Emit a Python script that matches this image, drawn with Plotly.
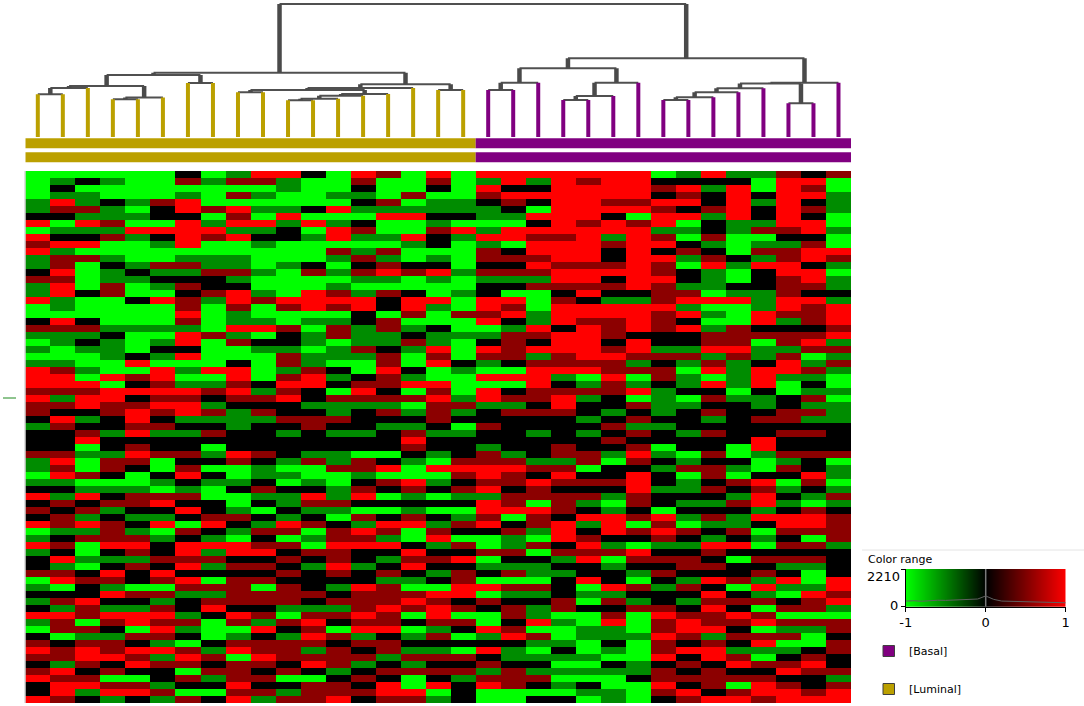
import plotly.graph_objects as go

W, H = 1084, 706

# ---------------- data ----------------
sample_groups = ["Luminal"] * 18 + ["Basal"] * 15
group_colors = {"Luminal": "#BBA000", "Basal": "#800080"}

# expression level codes (per sample, genes top -> bottom)
level_values = {"G": -1.0, "g": -0.55, "k": 0.0, "r": 0.55, "R": 1.0}

luminal_profiles = [
    "GGGGggkRGRrRggkrggR" "GGkrgGgGgRRRrRrrkgkk" "krggGgkRkrkRGgRgkkr" "GgkgkRgGkrRrkrRkkR",
    "GgkgRrkGgkRgrrRrRRg" "gGRrggGGgrRRrgrkRrkk" "krRrRgkgrkrrgkrkRgr" "RGkrgRrrGkrrgRrRRr",
    "GkGggrgRgkRGrGGGGkG" "GGkrgkgGGgGRrRRkgkrR" "GgGGrGgRkrgRgrGGgGk" "rkkRrrGrgrRRrkrRgk",
    "GgGGkggrgrGGgkggrrG" "GGGgkgggGGRGRRrrkkgk" "kgrrkGgkrgkrrrRkgkR" "rgRkgRrkgrrRkrGrRg",
    "GGGGgGgGRgGGGgkgGGk" "GGGgGGGkRGrkRkrRRrRk" "rRrkGGgrrkgkgrRrgrk" "kGrkgRRGrkRrRkGrRk",
    "GGGGrkkGRkgGGrgkgGR" "GGGgGgkgGRRrRrRrkrgk" "krGGkgGrRkgRGgkkrkR" "rGrgrRrRrgRgrkkgrg",
    "krGgRRkRRRRGgrgkrkr" "rRrgRRkRGgGgRrRRgkgk" "krkrRkgrkRkGrkRRrRk" "RrgkkgrgkGrRrGrkGr",
    "GgGGGrGgRrGGggrkkrg" "GGGGrGGGGRGgrkgrgkrk" "GgkGkgGGkkrRkgRgrgk" "GrgrRkGGGkgrkrgkGk",
    "grGrGRrRgRGGggrgkRR" "rggRgrGGkRRrRrkgggkk" "kRrGGgkGGgrkgGRRkrk" "rrrrkRrGgrRGrrrRrR",
    "RrGgGgGRgkgGGGgGGgr" "GGgRGkgGGGGkgrkrgkkk" "krkggkrgkGkgrkrRkrk" "rGrrkrgRkrrRrkrkrg",
    "RggGGgRgkkGGGgGGGGR" "rGGrkkgrrgrRrRkkrkgk" "kkgGgGkggkgRrGrkrkr" "krrrgGrkgrrrkrGkgr",
    "kGGGGkGRGgGGGkrGGRR" "RGgGggGggrRRkkgkrrkk" "kgrGGgkRrgkrGgGrkgk" "kkrkgrRrRrgrRkGrrr",
    "GGGgGRGgRRGrgGgGgrR" "rGgrrGggGkgkGrggrkgk" "kggrGGggrgGkrrRrrRr" "kgkrgrkGrkrrrgkrrR",
    "RrkgkgGkrgGgrkrgGgR" "RkkgggrgGGkrRrgkkkgk" "kGrrgkrRkGrgRrRkkgk" "kRrrrRrRgrkrgkrkrk",
    "rGGGrgRGGgGrgrRgGrk" "kGrrggkrrRrrkrgrkgkk" "kGkRGrkGkGkRrgRkgkr" "grrrRrrRkrrgkrkRRr",
    "GGGrGgRGGRgGGkrGGkR" "RrGgkrgGGkgRGrGgkgrR" "rkgGGRrgkgrRGGkRrRk" "gGrRrGkGgkgrgrGGRr",
    "RrkGggkgrkkGgkRgGGR" "gGGkggRrRGGRrRrrrkgk" "kgGRGgkGkGkgrRgkrkg" "kGRrRRrgrkgrkrkRGg",
    "GGGGggkGRgGGGGgGGgG" "GrGGgGGGkgGGGgrgkGgk" "kkrRrkrgkGgrkGrkRkr" "rRRkrGrkGkGrkrgkkk",
]

basal_profiles = [
    "RgRrkggGgRgrrkrgkkR" "RrRGgkRrgGRGRRgkkrkk" "grrRRrRgRRrRkGGrGgk" "GRGrkGGRgkRkrgrRGG",
    "RRkRrkgGRRGkrkrgkGR" "rRkgrrrrkGRGkrgrkkkk" "kgrRrrkrrRGkrggrkgr" "GrgkrrkrRkggkrrrGG",
    "RgkRkGRkRrRRrRrgrGG" "GggRrkRgrRRRrrkrkkgk" "kkgrkRrrGRrrgGrGkgg" "GrgkggRGrgGgkgrkGk",
    "RRRRRRRRRrRRRrRRrkr" "RRRkRRRrrRgkrRRrkkkk" "rrgrRrkrrrkRRRkrgkg" "kkkrrGgGGgkgGgGgGk",
    "RrRRRRRrRRRRRrRRrRk" "RRrRRRRRrRGgrgkkgkgk" "krrGkrkrgkRgkrRrRkk" "RGgGkGGggGGgGgGkgG",
    "RRRRrRkRRgrkkrRkrkg" "RRrrrkrRrrRrrkkgkrkr" "kgGkkrkgGgRRRkgrGgk" "kRgrkrRggkgGkgGGgg",
    "RRRRrRGrRRRRRRRRRkg" "RRRRkRRrgrGgRGrkrgrk" "rRrkRRRrrkrGrkGRrkg" "GrkgrGGGgGGGggkGGG",
    "GkrkRrRRgrRkRrrRrrr" "Rrrrkkgrkrrkggggkgkk" "GgkgkkgkkGRrRrgkrkr" "kgkkrRrrRrrRkrrRrk",
    "gkRrRkRGgGkrgGkkgrR" "gRkRkkgrgGggkGgkkkgk" "kGgrGggkgkgGrkgkrrk" "grkgkrRRrkRkrkrkRr",
    "RkgkkrgkkrgkrRgggGR" "GgGgrrRgrRGRkrkrgkrk" "krkrrkrkgkrgkgRrkrk" "RkRrRrrRgrRRkrrrkR",
    "gkRRRRRggGGGkgGGkgR" "GGGrrrRrggggGgkkkkkk" "GGkgGrkgrkggrkRkGkk" "rGkrkRrkrkgrRkrGrR",
    "gGGkgkkgrGgrgRkkkgg" "gRRkrGggkRRRkggkrkkR" "RgGGkRrRRgRkGgGkrkr" "gRgrGrRGrRgGrkrRRr",
    "rRRRRRRRrkgrrRRrrrR" "RrgkrrgrRRgGGkkrrkrk" "krgrkGgkgkRRrkrkrgk" "RgGkrGrgrGgkrRkrRR",
    "kRrRkrkRRkrRRkRRrkR" "rrrkrRrGgrgkgrgrgkrk" "krkkRrkgGrRRrGrkrgG" "GgRrrGrgGGkrRrkkrR",
    "rGGgggGGgGGRrgGggkg" "RRRrRgrgrgGGgGgggkkk" "krGggGgrgkrrrrgkkkk" "RRrRgGrrkrrkkrgrRR",
]

# hierarchical clustering merges: (node, child_a, child_b, distance)
merges = [
    ("A", 0, 1, 42.7), ("B", "A", 2, 49.0), ("E", 3, 4, 37.7), ("D", "E", 5, 39.5),
    ("C", "B", "D", 51.0), ("G", 6, 7, 54.0), ("F", "C", "G", 62.0),
    ("M", 8, 9, 44.7), ("P", 10, 11, 36.7), ("Q", "P", 12, 38.3), ("R", "Q", 13, 41.3),
    ("N", "R", 14, 43.0), ("L", "M", "N", 47.0), ("J", "L", 15, 49.0),
    ("K", 16, 17, 47.0), ("I", "J", "K", 52.7), ("H", "F", "I", 64.3),
    ("a", 18, 19, 47.0), ("b", "a", 20, 54.3), ("c", 21, 22, 37.0), ("d", "c", 23, 41.0),
    ("e", "d", 24, 54.3), ("f", "b", "e", 68.7), ("g", 25, 26, 37.0), ("h", "g", 27, 39.7),
    ("i", "h", 28, 44.7), ("j", "i", 29, 48.7), ("k", 30, 31, 33.7), ("l", "j", "k", 53.5),
    ("m", "l", 32, 54.3), ("n", "f", "m", 78.7), ("root", "H", "n", 133.0),
]

# value distribution shown in the colour-range legend
hist_bins = [-1.0, -0.9, -0.8, -0.7, -0.6, -0.5, -0.4, -0.3, -0.2, -0.1, 0.0,
             0.1, 0.2, 0.3, 0.4, 0.5, 0.6, 0.7, 0.8, 0.9, 1.0]
hist_counts = [330, 350, 320, 360, 380, 370, 400, 430, 420, 450, 630,
               430, 330, 320, 300, 310, 280, 270, 250, 240, 230]
hist_max = 2210
range_ticks = [-1, 0, 1]

# ---------------- build ----------------
profiles = luminal_profiles + basal_profiles
n_genes = len(profiles[0])
for i, p in enumerate(profiles):
    assert len(p) == n_genes, f"profile {i} has length {len(p)} != {n_genes}"
z = [[level_values[profiles[c][r]] for c in range(len(profiles))] for r in range(n_genes)]

cscale = [[0.0, "#00FF00"], [0.5, "#000000"], [1.0, "#FF0000"]]
FONT = "DejaVu Sans"


def pxx(x):
    return x / W


def pxy(y):
    return 1 - y / H


fig = go.Figure()

fig.add_trace(go.Heatmap(
    z=z, x=list(range(len(profiles))), y=list(range(n_genes)),
    colorscale=cscale, zmin=-1, zmax=1, showscale=False, hoverinfo="skip",
    xaxis="x", yaxis="y"))

# dendrogram
pos = {i: float(i) for i in range(len(profiles))}
hgt = {i: 0.0 for i in range(len(profiles))}
hx, hy, cx, cy = [], [], [], []
leaf_xy = {g: ([], []) for g in group_colors}
for name, a, b, h in merges:
    pos[name] = (pos[a] + pos[b]) / 2
    hgt[name] = h
    hx += [pos[a], pos[b], None]
    hy += [h, h, None]
    for ch in (a, b):
        if isinstance(ch, int):
            lx, ly = leaf_xy[sample_groups[ch]]
            lx += [pos[ch], pos[ch], None]
            ly += [0, h, None]
        else:
            cx += [pos[ch], pos[ch], None]
            cy += [hgt[ch], h, None]

fig.add_trace(go.Scatter(x=hx, y=hy, mode="lines", line=dict(color="#505050", width=2),
                         xaxis="x2", yaxis="y2", hoverinfo="skip", showlegend=False))
for g, (lx, ly) in leaf_xy.items():
    fig.add_trace(go.Scatter(x=lx, y=ly, mode="lines", line=dict(color=group_colors[g], width=4),
                             xaxis="x2", yaxis="y2", hoverinfo="skip", showlegend=False))
fig.add_trace(go.Scatter(x=cx, y=cy, mode="lines", line=dict(color="#4a4a4a", width=4.5),
                         xaxis="x2", yaxis="y2", hoverinfo="skip", showlegend=False))

# colour-range legend gradient + histogram
fig.add_trace(go.Heatmap(
    x=range_ticks, y=[0, hist_max], z=[range_ticks, range_ticks], zsmooth="best",
    colorscale=cscale, zmin=-1, zmax=1, showscale=False, hoverinfo="skip",
    xaxis="x3", yaxis="y3"))
fig.add_trace(go.Scatter(x=[0, 0], y=[0, hist_max * 1.06], mode="lines",
                         line=dict(color="#7a7a7a", width=1.5), cliponaxis=False,
                         xaxis="x3", yaxis="y3", hoverinfo="skip", showlegend=False))
fig.add_trace(go.Scatter(x=hist_bins, y=hist_counts, mode="lines",
                         line=dict(color="#606060", width=1),
                         xaxis="x3", yaxis="y3", hoverinfo="skip", showlegend=False))

shapes = []
# sample group bars
for (y0, y1) in [(138.3, 148.3), (152.3, 162.3)]:
    start = 0
    for g in ["Luminal", "Basal"]:
        cnt = sample_groups.count(g)
        shapes.append(dict(type="rect", xref="x", yref="paper",
                           x0=start - 0.5, x1=start + cnt - 0.5, y0=pxy(y1), y1=pxy(y0),
                           fillcolor=group_colors[g], line=dict(width=0), layer="above"))
        start += cnt
# left marker
shapes.append(dict(type="line", xref="paper", yref="paper", x0=pxx(3), x1=pxx(16),
                   y0=pxy(398), y1=pxy(398), line=dict(color="#1f8a1f", width=1)))
# heatmap left edge
shapes.append(dict(type="line", xref="paper", yref="paper", x0=pxx(25), x1=pxx(25),
                   y0=pxy(171), y1=pxy(703), line=dict(color="#c0c0c0", width=1)))
# legend separator
shapes.append(dict(type="line", xref="paper", yref="paper", x0=pxx(862), x1=1,
                   y0=pxy(550), y1=pxy(550), line=dict(color="#e4e4e4", width=1)))
# legend squares
for g, yc in [("Basal", 651), ("Luminal", 689)]:
    shapes.append(dict(type="rect", xref="paper", yref="paper",
                       x0=pxx(883), x1=pxx(894.5), y0=pxy(yc + 5.5), y1=pxy(yc - 5.5),
                       fillcolor=group_colors[g], line=dict(color="#404040", width=1)))


def label(text, x, y, size, anchor="left"):
    return dict(text=text, x=pxx(x), y=pxy(y), xref="paper", yref="paper",
                xanchor=anchor, yanchor="middle", showarrow=False,
                font=dict(family=FONT, size=size, color="#000"))


annotations = [
    label("Color range", 866, 559, 11),
    label(str(hist_max), 902, 576, 13, "right"),
    label("0", 900, 605, 13, "right"),
    label("[Basal]", 907, 651, 11),
    label("[Luminal]", 907, 689, 11),
]

fig.update_layout(
    width=W, height=H, margin=dict(l=0, r=0, t=0, b=0, autoexpand=False),
    paper_bgcolor="white", plot_bgcolor="white", showlegend=False,
    shapes=shapes, annotations=annotations,
    xaxis=dict(domain=[pxx(25.3), pxx(851)], range=[-0.5, len(profiles) - 0.5],
               visible=False, anchor="y"),
    yaxis=dict(domain=[pxy(703), pxy(171)], range=[n_genes - 0.5, -0.5],
               visible=False, anchor="x"),
    xaxis2=dict(domain=[pxx(25.3), pxx(851)], range=[-0.5, len(profiles) - 0.5],
                visible=False, anchor="y2"),
    yaxis2=dict(domain=[pxy(137), pxy(3)], range=[0, 134], visible=False, anchor="x2"),
    xaxis3=dict(domain=[pxx(905.7), pxx(1065.7)], range=[-1, 1], anchor="y3",
                tickvals=range_ticks, ticktext=[str(t) for t in range_ticks],
                ticks="outside", ticklen=4, tickcolor="#000", showline=True,
                linecolor="#000", linewidth=1, showgrid=False, zeroline=False,
                tickfont=dict(family=FONT, size=13, color="#000")),
    yaxis3=dict(domain=[pxy(606.7), pxy(569)], range=[0, hist_max], anchor="x3",
                tickvals=[0, hist_max], showticklabels=False,
                ticks="outside", ticklen=4, tickcolor="#000", showline=True,
                linecolor="#000", linewidth=1, showgrid=False, zeroline=False),
)

fig.write_html(
    "out.html",
    config={"displayModeBar": False},
    post_script=("document.documentElement.style.margin='0';"
                 "document.body.style.margin='0';"
                 "document.documentElement.style.overflow='hidden';"
                 "document.body.style.overflow='hidden';"),
)
